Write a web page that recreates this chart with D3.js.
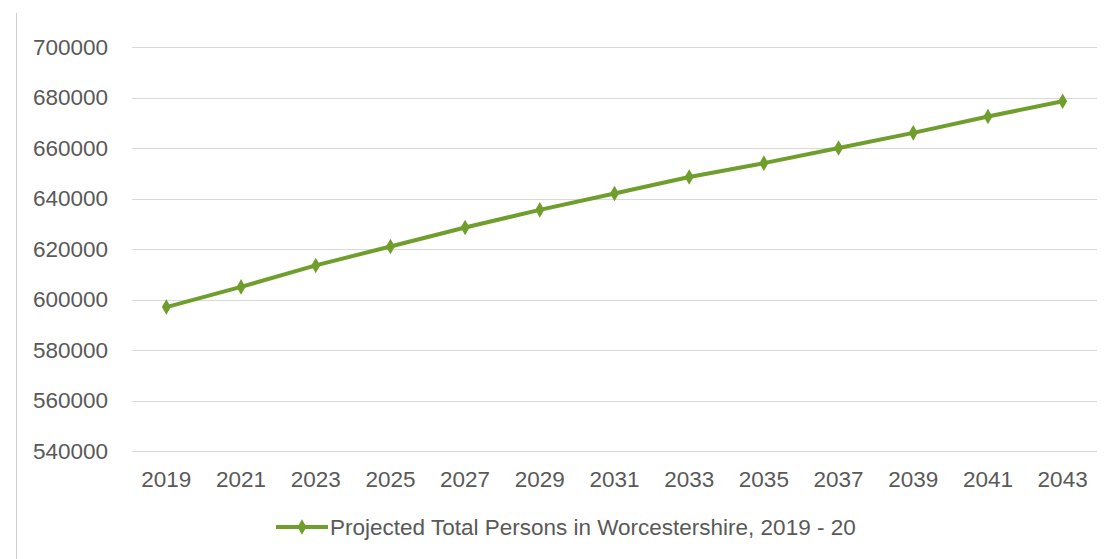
<!DOCTYPE html>
<meta charset="utf-8">
<style>
body { margin: 0; background: #fff; }
#chart text {
  font-family: "Liberation Sans", Arial, sans-serif;
  fill: #595959;
}
</style>
<svg id="chart"></svg>
<script src="https://d3js.org/d3.v7.min.js"></script>
<script>

var years = ["2019", "2021", "2023", "2025", "2027", "2029", "2031",
             "2033", "2035", "2037", "2039", "2041", "2043"];
var persons = [597000, 605000, 613500, 621000, 628500, 635500, 642000,
               648500, 654000, 660000, 666000, 672500, 678500];
var yTicks = [540000, 560000, 580000, 600000, 620000, 640000, 660000, 680000, 700000];
var seriesName = "Projected Total Persons in Worcestershire, 2019 - 20";

var width = 1117,
    height = 559,
    plotLeft = 129,
    plotRight = 1100,
    plotTop = 47,
    plotBottom = 451;

var svg = d3.select("#chart")
    .attr("width", width)
    .attr("height", height);

// border on the left of the chart area
svg.append("line")
    .attr("x1", 16.5).attr("x2", 16.5)
    .attr("y1", 13).attr("y2", height)
    .attr("stroke", "#d0d0d0");

var x = d3.scaleBand()
    .domain(years)
    .range([plotLeft, plotRight]);

var y = d3.scaleLinear()
    .domain([540000, 700000])
    .range([plotBottom, plotTop]);

// gridlines
svg.append("g")
    .selectAll("line")
    .data(yTicks)
  .enter().append("line")
    .attr("x1", plotLeft + 3).attr("x2", plotRight - 3)
    .attr("y1", function(d) { return Math.round(y(d)) + 0.5; })
    .attr("y2", function(d) { return Math.round(y(d)) + 0.5; })
    .attr("stroke", "#d9d9d9");

// y labels
svg.append("g")
    .selectAll("text")
    .data(yTicks)
  .enter().append("text")
    .attr("x", 108)
    .attr("y", function(d) { return y(d); })
    .attr("dy", ".35em")
    .attr("text-anchor", "end")
    .style("font-size", "22.5px")
    .text(function(d) { return d; });

// x labels
svg.append("g")
    .selectAll("text")
    .data(years)
  .enter().append("text")
    .attr("x", function(d) { return x(d) + x.bandwidth() / 2; })
    .attr("y", 487)
    .attr("text-anchor", "middle")
    .style("font-size", "22.5px")
    .text(function(d) { return d; });

var green = "#6f9e2c";

var line = d3.line()
    .x(function(d, i) { return x(years[i]) + x.bandwidth() / 2; })
    .y(function(d) { return y(d); });

svg.append("path")
    .datum(persons)
    .attr("fill", "none")
    .attr("stroke", green)
    .attr("stroke-width", 4)
    .attr("d", line);

svg.append("g")
    .selectAll("path")
    .data(persons)
  .enter().append("path")
    .attr("d", d3.symbol().type(d3.symbolDiamond).size(70))
    .attr("transform", function(d, i) {
      return "translate(" + (x(years[i]) + x.bandwidth() / 2) + "," + y(d) + ")";
    })
    .attr("fill", green);

// legend
var legend = svg.append("g").attr("transform", "translate(276,527)");
legend.append("line")
    .attr("x1", 0).attr("x2", 52)
    .attr("stroke", green)
    .attr("stroke-width", 4);
legend.append("path")
    .attr("d", d3.symbol().type(d3.symbolDiamond).size(70))
    .attr("transform", "translate(26,0)")
    .attr("fill", green);
legend.append("text")
    .attr("x", 54)
    .attr("dy", ".35em")
    .style("font-size", "22.5px")
    .text(seriesName);

</script>
